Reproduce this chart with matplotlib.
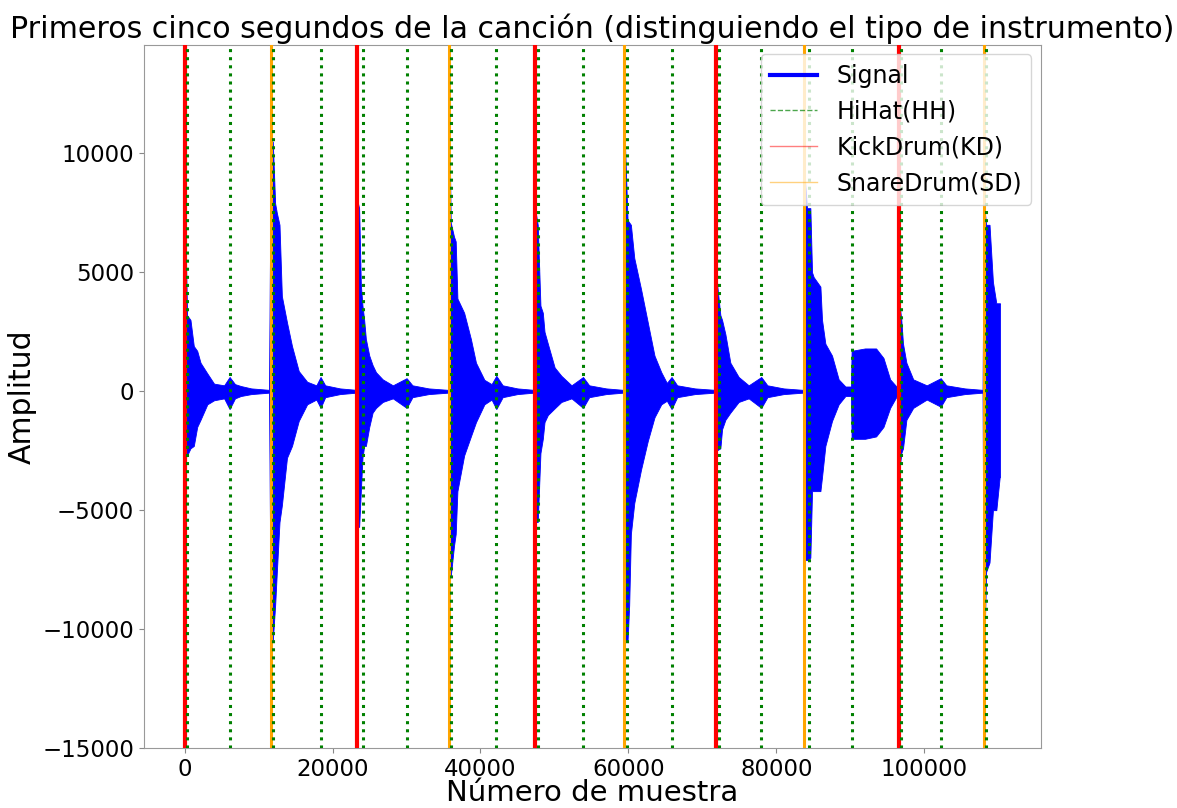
import numpy as np
import matplotlib
matplotlib.use("Agg")
import matplotlib.pyplot as plt
from matplotlib.lines import Line2D

# envelope of the signal: sample index, upper and lower amplitude
env_x = [
    0, 90, 320, 780, 1230, 1690, 2140, 3060, 3970, 5330, 6070, 6800, 7600, 9000, 11400,
    11640, 11910, 12230, 12460, 12820, 13140, 13830, 14510, 15420, 16560, 17800, 18370, 19000, 21000, 23200,
    23360, 23590, 23820, 24040, 24270, 24500, 24960, 25410, 25870, 26780, 28150, 30010, 30800, 33000, 35600,
    35740, 35970, 36420, 36650, 36880, 37790, 38700, 39390, 40530, 41500, 42140, 43000, 45000, 47200,
    47380, 47740, 48110, 48430, 48660, 49110, 50030, 50940, 52310, 53870, 54700, 57000, 59300,
    59430, 59890, 60110, 60340, 60800, 61710, 62620, 63530, 64450, 65200, 65840, 66600, 69000, 71700,
    71900, 72440, 72670, 73120, 73790, 74920, 76270, 77970, 78800, 81000, 83600,
    83710, 84160, 84610, 84840, 85060, 85970, 86190, 86640, 87540, 88440, 89350, 90100,
    90190, 92000, 93500, 94500, 95400, 96400,
    96590, 96910, 97140, 97600, 98520, 100350, 102240, 103000, 105500, 107900,
    108060, 108380, 108840, 109300, 109760, 110220, 110250,
]
env_hi = [
    6900, 6900, 3200, 3000, 1900, 1700, 1200, 750, 320, 250, 600, 300, 220, 120, 60,
    10500, 10500, 7900, 7500, 7000, 4000, 2900, 1900, 850, 400, 250, 600, 250, 120, 60,
    8000, 7700, 4500, 3600, 3000, 2200, 1500, 1100, 800, 500, 250, 550, 250, 120, 60,
    12900, 7100, 6500, 6300, 3900, 3300, 2200, 1200, 480, 300, 650, 250, 120, 60,
    7700, 7000, 3600, 3300, 2500, 2000, 1000, 650, 250, 600, 250, 120, 60,
    11400, 7200, 7100, 7000, 5600, 4300, 2900, 1500, 800, 350, 600, 250, 120, 60,
    4800, 3200, 3000, 2400, 1200, 600, 250, 600, 250, 120, 60,
    9600, 7700, 7700, 5000, 4800, 4400, 3000, 2000, 1500, 500, 200, 200,
    1700, 1800, 1800, 1400, 500, 150,
    3900, 3000, 2000, 1200, 500, 250, 550, 250, 120, 60,
    8000, 7000, 7000, 4600, 3700, 3700, 3700,
]
env_lo = [
    -2800, -2800, -2700, -2400, -2300, -1500, -1200, -550, -380, -300, -750, -300, -200, -120, -60,
    -10500, -10500, -9000, -7600, -5500, -4800, -2800, -2300, -1250, -550, -350, -700, -250, -120, -60,
    -5700, -5700, -4200, -2800, -2300, -2300, -1500, -900, -700, -450, -300, -700, -250, -120, -60,
    -7800, -7800, -6500, -6000, -4200, -2700, -1900, -1300, -550, -350, -750, -250, -120, -60,
    -5500, -5500, -2600, -2000, -1300, -1000, -720, -450, -300, -700, -250, -120, -60,
    -10500, -10500, -9000, -6000, -4700, -3300, -2100, -1100, -550, -400, -750, -250, -120, -60,
    -2500, -2400, -1600, -1200, -900, -450, -300, -700, -250, -120, -60,
    -7100, -7100, -7000, -4200, -4200, -4200, -3600, -2300, -1250, -550, -200, -200,
    -2000, -2000, -1900, -1500, -700, -150,
    -3500, -2600, -2400, -1200, -700, -350, -650, -250, -120, -60,
    -11900, -7600, -7200, -5000, -5000, -3600, -3600,
]

# onsets (sample index)
hh_onsets = [250, 6070, 11890, 18370, 24110, 30010, 36000, 42140, 47800, 53870,
             59860, 65840, 72240, 77970, 84370, 90190, 96840, 102240, 108310]
kd_onsets = [0, 23360, 47380, 71900, 96590]
sd_onsets = [11640, 35740, 59430, 83710, 108060]

fig = plt.figure(figsize=(11.77, 8.08), dpi=100)
ax = fig.add_axes([0.1223, 0.0743, 0.7619, 0.870])

ax.fill_between(env_x, env_lo, env_hi, color="blue", linewidth=0.6, zorder=2)

for x in kd_onsets:
    ax.axvline(x, color="red", linewidth=3, zorder=3)
for x in sd_onsets:
    ax.axvline(x, color="orange", linewidth=2.2, zorder=3)
for x in hh_onsets:
    ax.axvline(x, color="green", linestyle=":", linewidth=2.2, zorder=4)

ax.set_xlim(-5512, 115762)
ax.set_ylim(-15000, 14560)
ax.set_yticks([-15000, -10000, -5000, 0, 5000, 10000])
ax.set_xticks([0, 20000, 40000, 60000, 80000, 100000])
ax.tick_params(labelsize=16.5, color="#888888")
for sp in ax.spines.values():
    sp.set_color("#999999")

ax.set_title("Primeros cinco segundos de la canción (distinguiendo el tipo de instrumento)",
             fontsize=21.6, pad=5)
ax.set_xlabel("Número de muestra", fontsize=21, labelpad=-1)
ax.set_ylabel("Amplitud", fontsize=21.5)

handles = [
    Line2D([], [], color="blue", linewidth=3),
    Line2D([], [], color="green", linestyle="--", linewidth=1, alpha=0.7),
    Line2D([], [], color="red", linewidth=1, alpha=0.5),
    Line2D([], [], color="orange", linewidth=1, alpha=0.5),
]
ax.legend(handles, ["Signal", "HiHat(HH)", "KickDrum(KD)", "SnareDrum(SD)"],
          loc="upper right", fontsize=17, framealpha=0.8, borderaxespad=0.4)

fig.savefig("out.png", dpi=100)
